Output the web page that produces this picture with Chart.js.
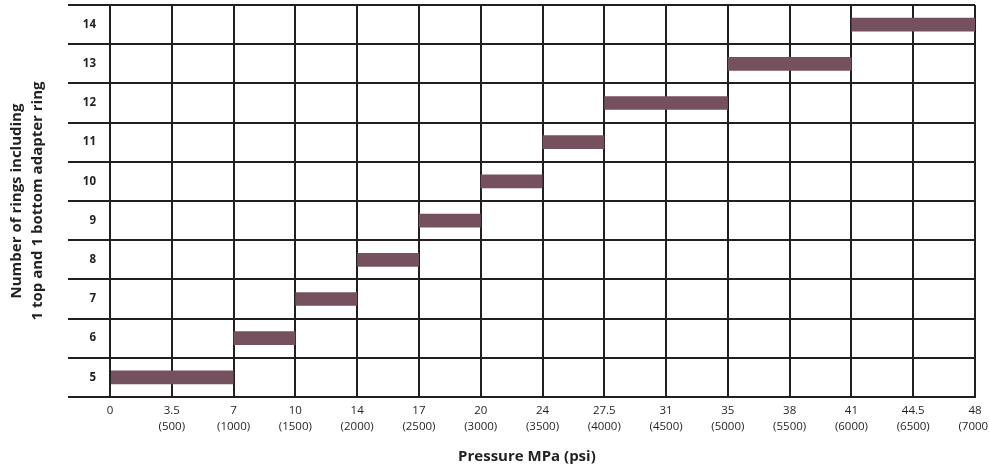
<!DOCTYPE html>
<html>
<head>
<meta charset="utf-8">
<script src="https://cdn.jsdelivr.net/npm/chart.js@4.4.0/dist/chart.umd.min.js"></script>
<style>
  html, body { margin: 0; padding: 0; background: #fff; }
  #wrap { width: 989px; height: 467px; }
</style>
</head>
<body>
<div id="wrap"><canvas id="chart-rings"></canvas></div>
<script>
// pressure ticks, MPa with psi below
var mpaTicks = ['0', '3.5', '7', '10', '14', '17', '20', '24', '27.5', '31', '35', '38', '41', '44.5', '48'];
var psiTicks = ['', '(500)', '(1000)', '(1500)', '(2000)', '(2500)', '(3000)', '(3500)', '(4000)', '(4500)', '(5000)', '(5500)', '(6000)', '(6500)', '(7000)'];

// number of rings and the pressure range (MPa) for each
var rings     = ['5', '6', '7', '8', '9', '10', '11', '12', '13', '14'];
var rangeFrom = ['0', '7', '10', '14', '17', '20', '24', '27.5', '35', '41'];
var rangeTo   = ['7', '10', '14', '17', '20', '24', '27.5', '35', '41', '48'];

var ink = '#231f20';

function buildRanges() {
  var out = [];
  for (var i = 0; i < rings.length; i++) {
    out.push([mpaTicks.indexOf(rangeFrom[i]), mpaTicks.indexOf(rangeTo[i])]);
  }
  return out;
}

function initChart() {
  var ctx = document.getElementById('chart-rings').getContext('2d');
  Chart.defaults.font.family = '"Open Sans", sans-serif';
  Chart.defaults.color = ink;
  new Chart(ctx, {
    type: 'bar',
    data: {
      labels: rings,
      datasets: [{
        data: buildRanges(),
        backgroundColor: '#75505f',
        borderWidth: 0,
        borderSkipped: false,
        barPercentage: 0.35,
        categoryPercentage: 1
      }]
    },
    options: {
      indexAxis: 'y',
      responsive: true,
      maintainAspectRatio: false,
      animation: false,
      layout: { padding: { left: 0, right: 14, top: 5, bottom: 0 } },
      plugins: { legend: { display: false }, tooltip: { enabled: false } },
      scales: {
        x: {
          type: 'linear',
          min: 0,
          max: 14,
          z: 1,
          ticks: {
            stepSize: 1,
            autoSkip: false,
            maxRotation: 0,
            padding: 6,
            font: { size: 11.5, lineHeight: 1.4 },
            callback: function (v) {
              if (v === 0) return mpaTicks[0];
              return [mpaTicks[v], psiTicks[v]];
            }
          },
          grid: { color: ink, lineWidth: 2, drawTicks: false },
          border: { color: ink, width: 2 },
          title: {
            display: true,
            // trailing spaces nudge the title a bit left, like the original
            text: 'Pressure MPa (psi)\u00a0\u00a0\u00a0\u00a0\u00a0\u00a0\u00a0\u00a0',
            font: { size: 15, weight: 'bold' },
            padding: { top: 0, bottom: 1 }
          },
          afterFit: function (scale) {
            scale.height = 70;
            scale.paddingLeft = 0;
            scale.paddingRight = 0;
          }
        },
        y: {
          reverse: true,
          z: 1,
          ticks: {
            padding: -28,
            font: { size: 11.5, weight: 'bold' }
          },
          grid: { color: ink, lineWidth: 2, tickLength: 42, offset: true },
          border: { color: ink, width: 2 },
          title: {
            display: true,
            text: ['Number of rings including', '1 top and 1 bottom adapter ring'],
            font: { size: 15, weight: 'bold', lineHeight: 1.4 },
            padding: { top: 6, bottom: 0 }
          },
          afterFit: function (scale) {
            scale.width = 110;
          }
        }
      }
    }
  });
}

window.addEventListener('load', initChart);
</script>
</body>
</html>
